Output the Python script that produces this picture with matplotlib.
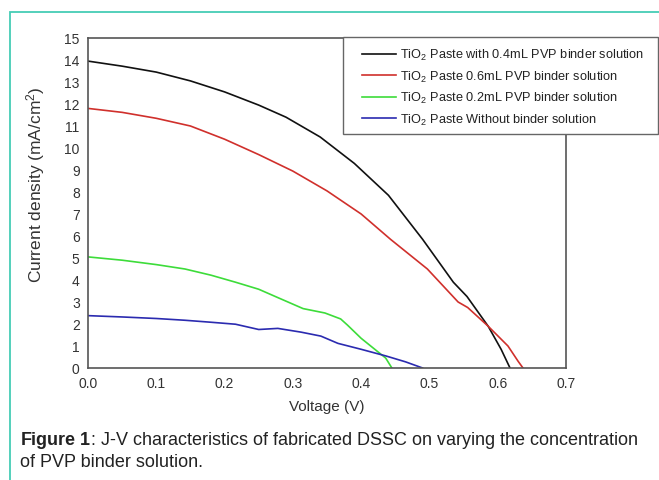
import matplotlib
matplotlib.use("Agg")
import matplotlib.pyplot as plt
from matplotlib.patches import Rectangle

plt.rcParams['font.family'] = ['Liberation Sans', 'DejaVu Sans']
plt.rcParams['mathtext.fontset'] = 'custom'
plt.rcParams['mathtext.rm'] = 'Liberation Sans'
plt.rcParams['mathtext.it'] = 'Liberation Sans:italic'
plt.rcParams['mathtext.bf'] = 'Liberation Sans:bold'

# J-V curves
v_04 = [0, 0.05, 0.1, 0.15, 0.2, 0.25, 0.29, 0.34, 0.39, 0.44, 0.49, 0.535, 0.555, 0.586, 0.605, 0.618]
j_04 = [13.95, 13.72, 13.45, 13.05, 12.55, 11.95, 11.4, 10.5, 9.3, 7.85, 5.85, 3.9, 3.25, 1.9, 0.85, 0.0]

v_06 = [0, 0.05, 0.1, 0.15, 0.2, 0.25, 0.3, 0.35, 0.4, 0.443, 0.497, 0.542, 0.556, 0.586, 0.615, 0.63, 0.637]
j_06 = [11.8, 11.62, 11.35, 11.0, 10.4, 9.7, 8.95, 8.05, 7.0, 5.85, 4.5, 3.0, 2.75, 1.9, 1.0, 0.3, 0.0]

v_02 = [0, 0.05, 0.1, 0.142, 0.18, 0.216, 0.25, 0.278, 0.315, 0.347, 0.37, 0.38, 0.40, 0.42, 0.436, 0.445]
j_02 = [5.05, 4.9, 4.7, 4.5, 4.22, 3.9, 3.58, 3.2, 2.7, 2.5, 2.23, 1.95, 1.35, 0.85, 0.45, 0.0]

v_00 = [0, 0.05, 0.1, 0.142, 0.18, 0.216, 0.25, 0.278, 0.312, 0.341, 0.366, 0.40, 0.436, 0.465, 0.49]
j_00 = [2.38, 2.32, 2.25, 2.17, 2.08, 1.99, 1.75, 1.8, 1.63, 1.45, 1.12, 0.85, 0.55, 0.28, 0.0]

labels = [
    "TiO$_2$ Paste with 0.4mL PVP binder solution",
    "TiO$_2$ Paste 0.6mL PVP binder solution",
    "TiO$_2$ Paste 0.2mL PVP binder solution",
    "TiO$_2$ Paste Without binder solution",
]
colors = ['#111111', '#d0302c', '#3ddc3a', '#2b2bb0']

x_ticks = [0.0, 0.1, 0.2, 0.3, 0.4, 0.5, 0.6, 0.7]
y_ticks = list(range(0, 16))

W, H = 659, 481
fig = plt.figure(figsize=(W / 100, H / 100), dpi=100)
ax = fig.add_axes([88 / W, 1 - 369 / H, 478 / W, 330 / H])

series = [(v_04, j_04), (v_06, j_06), (v_02, j_02), (v_00, j_00)]
for (v, j), c, lab in zip(series, colors, labels):
    ax.plot(v, j, color=c, lw=1.2, label=lab)

ax.set_xlim(0, 0.7)
ax.set_ylim(0, 15)
ax.set_xticks(x_ticks)
ax.set_xticklabels([f"{t:.1f}" for t in x_ticks])
ax.set_yticks(y_ticks)
ax.tick_params(length=0, labelsize=10, labelcolor='#333333', pad=6)
for s in ax.spines.values():
    s.set_color('#555555')
    s.set_linewidth(1.2)

ax.set_xlabel("Voltage (V)", fontsize=11, color='#333333', labelpad=6)
ax.set_ylabel("Current density (mA/cm$^2$)", fontsize=12.5, color='#333333')
ax.yaxis.set_label_coords(-0.086, 0.557)

# legend box sits on top of the axes and runs past its right edge
fig.patches.append(Rectangle((343 / W, 1 - 135 / H), 315 / W, 97 / H,
                             transform=fig.transFigure, facecolor='white',
                             edgecolor='#666666', lw=1.0, zorder=5))
leg = fig.legend(loc='upper left', bbox_to_anchor=(362 / W, 1 - 48 / H),
                 fontsize=9.2, frameon=False, handlelength=2.7,
                 handletextpad=0.25, labelspacing=0.5, borderpad=0,
                 borderaxespad=0)
leg.set_zorder(6)
for t in leg.get_texts():
    t.set_color('#222222')

# teal frame around figure
fig.patches.append(Rectangle((10 / W, -0.1), 1.2, 1 - 13 / H + 0.1,
                             transform=fig.transFigure, fill=False,
                             edgecolor='#45cdb5', lw=1.3))

fig.text(20 / W, 1 - 441 / H, r"$\mathbf{Figure\ 1}$: J-V characteristics of fabricated DSSC on varying the concentration",
         fontsize=13, va='center', ha='left', color='#222222')
fig.text(20 / W, 1 - 463 / H, "of PVP binder solution.",
         fontsize=13, va='center', ha='left', color='#222222')

fig.savefig("out.png", dpi=100)
